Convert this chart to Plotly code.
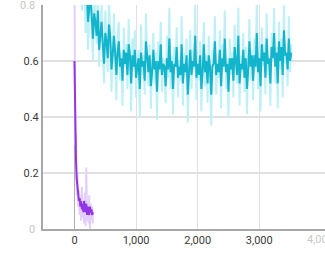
import plotly.graph_objects as go

# ---- data ----
cyan_steps = [100 + 20 * i for i in range(172)]
cyan_raw = [
    0.93, 0.78, 0.86, 0.95, 0.70, 0.88, 0.64, 0.82, 0.90, 0.72,
    0.60, 0.84, 0.76, 0.66, 0.87, 0.58, 0.74, 0.80, 0.62, 0.52,
    0.78, 0.68, 0.56, 0.82, 0.71, 0.49, 0.64, 0.77, 0.60, 0.46,
    0.69, 0.74, 0.53, 0.63, 0.44, 0.72, 0.58, 0.66, 0.50, 0.75,
    0.61, 0.42, 0.68, 0.57, 0.71, 0.47, 0.59, 0.64, 0.40, 0.73,
    0.55, 0.62, 0.48, 0.77, 0.60, 0.51, 0.66, 0.43, 0.58, 0.70,
    0.52, 0.63, 0.39, 0.67, 0.56, 0.74, 0.49, 0.61, 0.57, 0.45,
    0.69, 0.54, 0.79, 0.50, 0.62, 0.41, 0.65, 0.58, 0.72, 0.47,
    0.60, 0.53, 0.76, 0.44, 0.63, 0.55, 0.68, 0.38, 0.59, 0.71,
    0.50, 0.64, 0.57, 0.80, 0.46, 0.61, 0.53, 0.67, 0.42, 0.58,
    0.74, 0.51, 0.62, 0.45, 0.69, 0.56, 0.37, 0.64, 0.59, 0.76,
    0.48, 0.60, 0.54, 0.71, 0.43, 0.66, 0.57, 0.78, 0.50, 0.61,
    0.40, 0.68, 0.55, 0.63, 0.47, 0.73, 0.58, 0.52, 0.79, 0.44,
    0.62, 0.56, 0.70, 0.49, 0.65, 0.41, 0.59, 0.75, 0.53, 0.64,
    0.46, 0.68, 0.57, 0.81, 0.50, 0.63, 0.42, 0.72, 0.58, 0.66,
    0.48, 0.77, 0.55, 0.61, 0.44, 0.70, 0.60, 0.79, 0.52, 0.65,
    0.43, 0.74, 0.57, 0.68, 0.47, 0.80, 0.59, 0.63, 0.51, 0.76,
    0.56, 0.66,
]
cyan_smooth = [
    0.88, 0.84, 0.85, 0.89, 0.80, 0.84, 0.74, 0.79, 0.84, 0.76,
    0.68, 0.77, 0.74, 0.69, 0.78, 0.64, 0.70, 0.74, 0.66, 0.59,
    0.70, 0.67, 0.61, 0.73, 0.69, 0.57, 0.62, 0.69, 0.63, 0.55,
    0.63, 0.67, 0.58, 0.61, 0.53, 0.64, 0.59, 0.63, 0.55, 0.66,
    0.62, 0.52, 0.62, 0.58, 0.64, 0.54, 0.58, 0.61, 0.50, 0.63,
    0.58, 0.60, 0.53, 0.67, 0.62, 0.56, 0.62, 0.51, 0.56, 0.64,
    0.57, 0.60, 0.49, 0.60, 0.57, 0.66, 0.55, 0.59, 0.58, 0.51,
    0.61, 0.57, 0.68, 0.56, 0.60, 0.50, 0.59, 0.58, 0.65, 0.54,
    0.58, 0.55, 0.66, 0.52, 0.59, 0.56, 0.62, 0.48, 0.56, 0.64,
    0.55, 0.60, 0.58, 0.69, 0.54, 0.59, 0.55, 0.62, 0.50, 0.56,
    0.66, 0.56, 0.60, 0.52, 0.62, 0.58, 0.48, 0.58, 0.59, 0.67,
    0.55, 0.59, 0.56, 0.64, 0.51, 0.61, 0.58, 0.68, 0.56, 0.59,
    0.49, 0.61, 0.57, 0.61, 0.53, 0.65, 0.60, 0.55, 0.69, 0.52,
    0.59, 0.57, 0.64, 0.54, 0.61, 0.50, 0.57, 0.67, 0.58, 0.62,
    0.53, 0.62, 0.58, 0.70, 0.56, 0.61, 0.51, 0.66, 0.60, 0.63,
    0.54, 0.68, 0.59, 0.61, 0.52, 0.65, 0.61, 0.70, 0.58, 0.63,
    0.52, 0.67, 0.60, 0.65, 0.55, 0.71, 0.62, 0.63, 0.57, 0.68,
    0.60, 0.63,
]

purple_steps = [12 * i for i in range(26)]
purple_raw = [
    0.95, 0.30, 0.34, 0.12, 0.20, 0.08, 0.14, 0.05, 0.12, 0.03,
    0.15, 0.04, 0.10, 0.02, 0.13, 0.01, 0.22, 0.03, 0.10, 0.02,
    0.12, 0.00, 0.09, 0.03, 0.08, 0.02,
]
purple_smooth = [
    0.60, 0.32, 0.25, 0.18, 0.14, 0.12, 0.10, 0.11, 0.08, 0.10,
    0.07, 0.09, 0.06, 0.10, 0.08, 0.06, 0.09, 0.05, 0.08, 0.07,
    0.05, 0.08, 0.06, 0.07, 0.05, 0.06,
]

x_ticks = [0, 1000, 2000, 3000]
x_labels = ["0", "1,000", "2,000", "3,000"]
x_faded_tick = 4000
x_faded_label = "4,000"
y_ticks = [0.2, 0.4, 0.6, 0.8]
y_labels = ["0.2", "0.4", "0.6", ""]
y_faded_ticks = [0, 0.8]
y_faded_labels = ["0", "0.8"]

FADED = "#c8c8c8"

# ---- figure ----
fig = go.Figure()
fig.add_trace(go.Scatter(x=cyan_steps, y=cyan_raw, mode="lines",
                         line=dict(color="#bdf0f7", width=2)))
fig.add_trace(go.Scatter(x=purple_steps, y=purple_raw, mode="lines",
                         line=dict(color="#e3d0fa", width=2)))
fig.add_trace(go.Scatter(x=cyan_steps, y=cyan_smooth, mode="lines",
                         line=dict(color="#12b5cb", width=2)))
fig.add_trace(go.Scatter(x=purple_steps, y=purple_smooth, mode="lines",
                         line=dict(color="#9334e6", width=2)))

annotations = [
    dict(x=x_faded_tick, y=0, xref="x", yref="paper", yanchor="top",
         xanchor="center", yshift=-2, text=x_faded_label, showarrow=False,
         font=dict(color=FADED, size=11))
]
for v, t in zip(y_faded_ticks, y_faded_labels):
    annotations.append(dict(x=0, y=v, xref="paper", yref="y", xanchor="right",
                            yanchor="middle", xshift=-6, text=t, showarrow=False,
                            font=dict(color=FADED, size=11)))

fig.update_layout(
    width=325, height=258,
    margin=dict(l=43, r=0, t=5, b=29),
    paper_bgcolor="white", plot_bgcolor="white",
    showlegend=False,
    font=dict(family="Roboto", size=11, color="#3a3a3a"),
    annotations=annotations,
    xaxis=dict(range=[-511, 4067], tickvals=x_ticks, ticktext=x_labels,
               automargin=False,
               showgrid=True, gridcolor="#e0e0e0", gridwidth=1,
               zeroline=True, zerolinecolor="#b0b0b0", zerolinewidth=1,
               showline=True, linecolor="#a8a8a8", linewidth=2, ticks=""),
    yaxis=dict(range=[0, 0.8], tickvals=y_ticks, ticktext=y_labels,
               automargin=False,
               showgrid=True, gridcolor="#e0e0e0", gridwidth=2,
               zeroline=False,
               showline=True, linecolor="#a8a8a8", linewidth=2, ticks=""),
)

fig.write_html("out.html", config={"displayModeBar": False},
               post_script="document.body.style.margin='0px';document.body.style.overflow='hidden';")
